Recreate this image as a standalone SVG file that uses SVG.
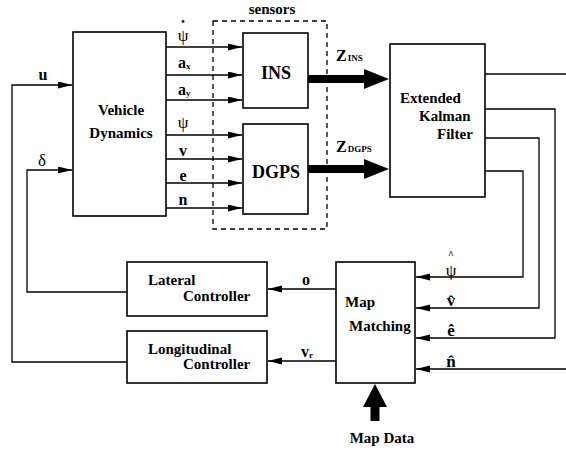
<svg xmlns="http://www.w3.org/2000/svg" width="566" height="450" viewBox="0 0 566 450">
<defs>
<style>
.box{fill:#fff;stroke:#000;stroke-width:1.6}
.dash{fill:none;stroke:#000;stroke-width:1.3;stroke-dasharray:5,4}
.ln{fill:none;stroke:#000;stroke-width:1.3}
.t{font-family:"Liberation Serif","Times New Roman",serif;font-weight:bold;font-size:15px;fill:#000}
.big{font-size:18px}
.lab{font-family:"Liberation Serif","Times New Roman",serif;font-weight:bold;font-size:16px;fill:#000}
.hat{font-size:17px}
.sub{font-size:9px}
.thick{fill:#000;stroke:none}
</style>
<marker id="ar" markerUnits="userSpaceOnUse" markerWidth="15" markerHeight="8" refX="14" refY="3.5" orient="auto">
<path d="M0,0 L14,3.5 L0,7 z" fill="#000"/>
</marker>
</defs>

<g id="connectors">
<path class="ln" marker-end="url(#ar)" d="M166,47 H242"/>
<path class="ln" marker-end="url(#ar)" d="M166,75 H242"/>
<path class="ln" marker-end="url(#ar)" d="M166,100 H242"/>
<path class="ln" marker-end="url(#ar)" d="M166,135 H242"/>
<path class="ln" marker-end="url(#ar)" d="M166,159 H242"/>
<path class="ln" marker-end="url(#ar)" d="M166,183 H242"/>
<path class="ln" marker-end="url(#ar)" d="M166,208 H242"/>
<path class="thick" d="M308,75 H364 V69 L389,79 L364,89 V83 H308 z"/>
<path class="thick" d="M308,165 H364 V159 L389,169 L364,179 V173 H308 z"/>
<path class="ln" d="M485,74 H566"/>
<path class="ln" marker-end="url(#ar)" d="M485,109 H555 V338 H416"/>
<path class="ln" marker-end="url(#ar)" d="M485,138 H539 V308 H416"/>
<path class="ln" marker-end="url(#ar)" d="M485,171 H523 V277 H416"/>
<path class="ln" marker-end="url(#ar)" d="M566,369 H416"/>
<path class="ln" marker-end="url(#ar)" d="M336,289 H268"/>
<path class="ln" marker-end="url(#ar)" d="M336,361 H268"/>
<path class="ln" marker-end="url(#ar)" d="M127,292 H27 V170 H72"/>
<path class="ln" marker-end="url(#ar)" d="M127,362 H12 V85 H72"/>
<path class="thick" d="M370.5,421 V407 H363 L375,384 L387,407 H379.5 V421 z"/>
</g>

<g id="sensors">
<rect class="dash" x="213" y="21" width="114" height="208"/>
<text class="t" x="272" y="14" text-anchor="middle">sensors</text>
</g>

<g id="vehicle-dynamics">
<rect class="box" x="73" y="32" width="93" height="184"/>
<text class="t" x="121" y="115" text-anchor="middle">Vehicle</text>
<text class="t" x="121" y="138" text-anchor="middle">Dynamics</text>
</g>

<g id="ins">
<rect class="box" x="243" y="33" width="65" height="75"/>
<text class="t big" x="276" y="79" text-anchor="middle">INS</text>
</g>

<g id="dgps">
<rect class="box" x="243" y="124" width="65" height="90"/>
<text class="t big" x="276" y="178" text-anchor="middle">DGPS</text>
</g>

<g id="ekf">
<rect class="box" x="390" y="44" width="95" height="153"/>
<text class="t" x="400" y="103">Extended</text>
<text class="t" x="419" y="121">Kalman</text>
<text class="t" x="437" y="139">Filter</text>
</g>

<g id="map-matching">
<rect class="box" x="336" y="262" width="79" height="121"/>
<text class="t" x="345" y="307">Map</text>
<text class="t" x="349" y="331">Matching</text>
</g>

<g id="lateral-controller">
<rect class="box" x="127" y="262" width="140" height="54"/>
<text class="t" x="148" y="285">Lateral</text>
<text class="t" x="183" y="301">Controller</text>
</g>

<g id="longitudinal-controller">
<rect class="box" x="127" y="331" width="140" height="52"/>
<text class="t" x="148" y="354">Longitudinal</text>
<text class="t" x="183" y="369">Controller</text>
</g>

<g id="map-data">
<text class="t" x="382" y="443" text-anchor="middle">Map Data</text>
</g>

<g id="labels">
<text class="lab" x="183" y="41" text-anchor="middle" style="font-weight:normal;font-size:17px">ψ</text>
<text class="lab" x="183" y="25" text-anchor="middle" style="font-size:10px">•</text>
<text class="lab" x="178" y="68">a<tspan class="sub" dy="1">x</tspan></text>
<text class="lab" x="178" y="95">a<tspan class="sub" dy="1">y</tspan></text>
<text class="lab" x="183" y="128" text-anchor="middle" style="font-weight:normal;font-size:17px">ψ</text>
<text class="lab" x="183" y="156" text-anchor="middle">v</text>
<text class="lab" x="183" y="181" text-anchor="middle">e</text>
<text class="lab" x="183" y="205" text-anchor="middle">n</text>
<text class="lab" x="43" y="80" text-anchor="middle">u</text>
<text class="lab" x="42" y="166" text-anchor="middle" style="font-weight:normal;font-size:17px">δ</text>
<text class="lab" x="336" y="61">Z<tspan class="sub" dx="1">INS</tspan></text>
<text class="lab" x="336" y="152">Z<tspan class="sub" dx="1">DGPS</tspan></text>
<text class="lab" x="306" y="285" text-anchor="middle">o</text>
<text class="lab" x="301" y="357">v<tspan class="sub" dy="1">r</tspan></text>
<text class="lab" x="451" y="276" text-anchor="middle" style="font-weight:normal;font-size:17px">ψ</text>
<text class="lab" x="451" y="258" text-anchor="middle" style="font-size:10px">^</text>
<text class="lab hat" x="451" y="306" text-anchor="middle">v̂</text>
<text class="lab hat" x="451" y="336" text-anchor="middle">ê</text>
<text class="lab hat" x="451" y="367" text-anchor="middle">n̂</text>
</g>
</svg>
